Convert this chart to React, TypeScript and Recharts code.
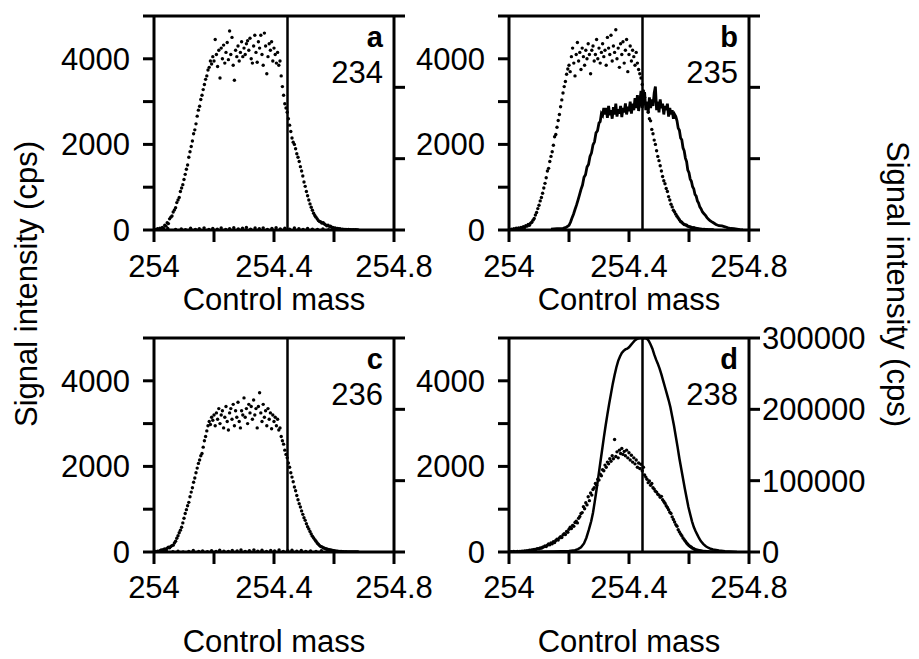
import React from 'react';
import { ComposedChart, Scatter, Line, XAxis, YAxis, ReferenceLine } from 'recharts';

const FONT = 'Liberation Sans, Arial, Helvetica, sans-serif';

// control mass scan positions shared by the dotted reference peaks
const scanMass = [
  254.000, 254.004, 254.008, 254.012, 254.016, 254.020, 254.024, 254.028, 254.032, 254.036,
  254.040, 254.044, 254.048, 254.052, 254.056, 254.060, 254.064, 254.068, 254.072, 254.076,
  254.080, 254.084, 254.088, 254.092, 254.096, 254.100, 254.104, 254.108, 254.112, 254.116,
  254.120, 254.124, 254.128, 254.132, 254.136, 254.140, 254.144, 254.148, 254.152, 254.156,
  254.160, 254.164, 254.168, 254.172, 254.176, 254.180, 254.184, 254.188, 254.192, 254.196,
  254.200, 254.204, 254.208, 254.212, 254.216, 254.220, 254.224, 254.228, 254.232, 254.236,
  254.240, 254.244, 254.248, 254.252, 254.256, 254.260, 254.264, 254.268, 254.272, 254.276,
  254.280, 254.284, 254.288, 254.292, 254.296, 254.300, 254.304, 254.308, 254.312, 254.316,
  254.320, 254.324, 254.328, 254.332, 254.336, 254.340, 254.344, 254.348, 254.352, 254.356,
  254.360, 254.364, 254.368, 254.372, 254.376, 254.380, 254.384, 254.388, 254.392, 254.396,
  254.400, 254.404, 254.408, 254.412, 254.416, 254.420, 254.424, 254.428, 254.432, 254.436,
  254.440, 254.444, 254.448, 254.452, 254.456, 254.460, 254.464, 254.468, 254.472, 254.476,
  254.480, 254.484, 254.488, 254.492, 254.496, 254.500, 254.504, 254.508, 254.512, 254.516,
  254.520, 254.524, 254.528, 254.532, 254.536, 254.540, 254.544, 254.548, 254.552, 254.556,
  254.560, 254.564, 254.568, 254.572, 254.576, 254.580, 254.584, 254.588, 254.592, 254.596,
  254.600, 254.604, 254.608, 254.612, 254.616, 254.620, 254.624, 254.628, 254.632, 254.636,
  254.640, 254.644, 254.648, 254.652, 254.656, 254.660, 254.664, 254.668, 254.672, 254.676,
  254.680,
];

// reference peak (cps), one list per panel
const refA = [
  0, 15, 5, 30, 10, 40, 20, 60, 35, 110,
  90, 170, 150, 260, 300, 330, 420, 470, 520, 640,
  700, 760, 900, 980, 1060, 1180, 1300, 1420, 1520, 1700,
  1830, 1950, 2080, 2250, 2340, 2480, 2660, 2800, 2890, 3050,
  3150, 3280, 3400, 3520, 3600, 3740, 3800, 3950, 3880, 4050,
  3950, 4450, 4100, 3820, 4200, 3550, 4250, 4000, 4320, 3900,
  4150, 4380, 3980, 4650, 4100, 4500, 3850, 3500, 4200, 4050,
  4300, 3950, 4150, 4400, 4050, 4250, 4100, 4350, 4420, 4200,
  4480, 4000, 3900, 4300, 4550, 4150, 3920, 4400, 4250, 4550,
  4100, 3850, 4600, 4300, 3650, 4050, 4350, 4200, 4400, 3950,
  4250, 4100, 3900, 4150, 3850, 3950, 3600, 3350, 3150, 2950,
  2850, 2750, 2600, 2450, 2300, 2150, 2050, 2000, 1900, 1780,
  1700, 1600, 1480, 1380, 1260, 1120, 1020, 900, 800, 700,
  610, 530, 460, 390, 340, 300, 260, 220, 200, 190,
  160, 170, 140, 120, 100, 110, 85, 90, 65, 60,
  40, 45, 30, 35, 25, 30, 15, 20, 10, 15,
  10, 5, 10, 5, 5, 0, 5, 0, 5, 0,
  0,
];
const refB = [
  10, 0, 20, 5, 30, 15, 40, 20, 50, 30,
  60, 45, 80, 60, 100, 90, 130, 110, 160, 180,
  230, 270, 350, 410, 500, 580, 680, 760, 860, 980,
  1090, 1220, 1380, 1440, 1600, 1720, 1830, 1980, 2180, 2230,
  2400, 2560, 2700, 2880, 3040, 3200, 3350, 3470, 3640, 3760,
  3850, 3700, 4050, 4250, 3900, 3600, 4100, 4380, 3950, 4150,
  3750, 4250, 4050, 3850, 4200, 4000, 4350, 4100, 3650, 4200,
  4300, 3950, 4100, 4450, 4000, 4250, 3900, 4150, 4350, 4050,
  4200, 3850, 4500, 4250, 4100, 4550, 3950, 4300, 4150, 4680,
  4000, 4250, 3800, 4350, 4100, 4400, 3900, 4200, 4450, 3700,
  4100, 4300, 3950, 4200, 4050, 3850, 4150, 3900, 3750, 3650,
  3550, 3400, 3250, 3100, 2950, 2850, 2750, 2600, 2550, 2350,
  2250, 2100, 2000, 1850, 1720, 1620, 1500, 1380, 1250, 1150,
  1080, 970, 900, 780, 700, 600, 540, 460, 420, 370,
  320, 280, 240, 200, 180, 150, 130, 120, 110, 90,
  80, 70, 60, 50, 55, 40, 35, 30, 25, 20,
  20, 15, 10, 10, 5, 5, 0, 0, 0, 0,
  0,
];
const refC = [
  0, 10, 0, 20, 10, 30, 50, 40, 60, 70,
  60, 90, 110, 100, 130, 150, 160, 210, 250, 320,
  380, 450, 510, 580, 680, 790, 900, 990, 1080, 1160,
  1290, 1400, 1500, 1630, 1730, 1850, 1960, 2070, 2150, 2250,
  2300, 2450, 2600, 2700, 2830, 2950, 3050, 2980, 3150, 3080,
  3200, 2950, 3250, 3100, 3350, 3000, 3200, 3300, 2900, 3150,
  3400, 3050, 2850, 3250, 3350, 3100, 3450, 2950, 3300, 3150,
  3500, 3050, 2900, 3300, 3200, 3600, 3150, 3350, 3000, 3450,
  3250, 3400, 3100, 3550, 3200, 3350, 2900, 3400, 3720, 3250,
  3050, 3450, 3150, 3300, 2950, 3350, 3100, 3250, 2880, 3200,
  3050, 3150, 2950, 3100, 2850, 2900, 2700, 2600, 2520, 2380,
  2280, 2200, 2080, 1980, 1850, 1750, 1640, 1520, 1430, 1320,
  1220, 1130, 1050, 960, 880, 800, 740, 660, 590, 540,
  480, 420, 370, 330, 290, 250, 210, 180, 150, 130,
  120, 100, 90, 75, 70, 60, 55, 50, 40, 35,
  30, 25, 20, 20, 15, 10, 10, 5, 5, 0,
  5, 0, 0, 0, 0, 0, 0, 0, 0, 0,
  0,
];
const refD = [
  0, 0, 5, 0, 10, 0, 5, 10, 0, 15,
  10, 20, 15, 25, 20, 30, 25, 40, 35, 50,
  45, 60, 55, 70, 80, 75, 95, 90, 110, 120,
  140, 130, 160, 190, 170, 210, 190, 240, 220, 270,
  300, 280, 330, 360, 340, 400, 430, 410, 480, 460,
  530, 580, 550, 620, 600, 690, 720, 680, 790, 830,
  900, 920, 1060, 1010, 1150, 1100, 1290, 1200, 1380, 1330,
  1460, 1500, 1600, 1560, 1700, 1680, 1820, 1780, 1920, 1900,
  2030, 1980, 2100, 2060, 2180, 2120, 2250, 2180, 2630, 2230,
  2340, 2200, 2380, 2300, 2420, 2280, 2350, 2250, 2380, 2200,
  2320, 2150, 2260, 2100, 2200, 2060, 2150, 1980, 2080, 1950,
  2050, 1900, 1980, 1800, 1750, 1700, 1620, 1660, 1560, 1600,
  1500, 1470, 1420, 1400, 1350, 1330, 1280, 1300, 1220, 1180,
  1140, 1080, 1040, 990, 930, 900, 820, 760, 700, 640,
  600, 520, 470, 420, 380, 330, 290, 250, 210, 180,
  150, 130, 110, 90, 75, 60, 50, 40, 35, 30,
  25, 20, 15, 10, 10, 5, 5, 0, 0, 0,
  0,
];

// 234 and 236 signals, practically zero
const zeroMassA = [
  254.012, 254.030, 254.046, 254.072, 254.091, 254.105, 254.122, 254.138, 254.151, 254.167,
  254.183, 254.196, 254.211, 254.224, 254.239, 254.252, 254.266, 254.281, 254.295, 254.308,
  254.322, 254.337, 254.351, 254.364, 254.378, 254.393, 254.407, 254.421, 254.436, 254.452,
  254.468, 254.483, 254.497, 254.512, 254.528, 254.545, 254.563, 254.582, 254.604,
];
const zeroA = [
  20, 0, 35, 10, 25, 5, 40, 15, 30, 50,
  10, 35, 20, 45, 15, 30, 55, 25, 40, 60,
  20, 45, 30, 50, 15, 35, 55, 25, 40, 20,
  45, 30, 15, 35, 20, 10, 25, 5, 15,
];
const zeroMassC = [
  254.018, 254.041, 254.063, 254.080, 254.097, 254.116, 254.131, 254.149, 254.162, 254.178,
  254.192, 254.207, 254.219, 254.233, 254.248, 254.261, 254.277, 254.290, 254.304, 254.318,
  254.333, 254.346, 254.360, 254.375, 254.389, 254.402, 254.417, 254.431, 254.446, 254.460,
  254.476, 254.491, 254.506, 254.522, 254.540, 254.558, 254.577, 254.597,
];
const zeroC = [
  10, 30, 5, 20, 0, 15, 35, 10, 25, 5,
  30, 15, 40, 20, 10, 35, 25, 45, 15, 30,
  50, 20, 40, 10, 35, 25, 45, 15, 30, 40,
  20, 35, 10, 25, 15, 30, 5, 20,
];

// 235 signal (left axis)
const lineBMass = [
  254.140, 254.160, 254.180, 254.190, 254.200, 254.205, 254.210, 254.215, 254.220, 254.225,
  254.230, 254.235, 254.240, 254.245, 254.250, 254.255, 254.260, 254.265, 254.270, 254.275,
  254.280, 254.285, 254.290, 254.295, 254.300, 254.304, 254.308, 254.312, 254.316,
  254.320, 254.324, 254.328, 254.332, 254.336, 254.340, 254.344, 254.348, 254.352, 254.356,
  254.360, 254.364, 254.368, 254.372, 254.376, 254.380, 254.384, 254.388, 254.392, 254.396,
  254.400, 254.404, 254.408, 254.412, 254.416, 254.420, 254.424, 254.428, 254.432, 254.436,
  254.440, 254.444, 254.448, 254.452, 254.456, 254.460, 254.464, 254.468, 254.472, 254.476,
  254.480, 254.484, 254.488, 254.492, 254.496, 254.500, 254.504, 254.508, 254.512, 254.516,
  254.520, 254.524, 254.528, 254.532, 254.536, 254.540, 254.544, 254.548, 254.552, 254.556,
  254.560, 254.564, 254.568, 254.572, 254.576, 254.580, 254.584, 254.588, 254.592, 254.596,
  254.600, 254.604, 254.608, 254.612, 254.616, 254.620, 254.624, 254.628, 254.632, 254.636,
  254.640, 254.645, 254.650, 254.655, 254.660, 254.665, 254.670, 254.675, 254.680,
  254.690, 254.700, 254.710, 254.720, 254.730, 254.740, 254.750, 254.760, 254.770, 254.780,
];
const lineB = [
  20, 30, 40, 60, 110, 180, 280, 370, 480, 580,
  700, 820, 950, 1050, 1230, 1290, 1470, 1530, 1720, 1800,
  1990, 2060, 2270, 2320, 2500, 2530, 2720, 2680, 2850,
  2700, 2850, 2620, 2900, 2680, 2800, 2600, 2870, 2700, 2950,
  2650, 2820, 2720, 2900, 2640, 2850, 2750, 2960, 2700, 2880,
  2780, 3000, 2720, 2950, 2800, 3080, 2850, 3150, 2780, 3000,
  3250, 2850, 3050, 3220, 2800, 3000, 2750, 3100, 2850, 3050,
  2900, 3200, 3350, 2800, 3000, 2750, 3050, 2850, 2950, 2700,
  2900, 2800, 2950, 2650, 2850, 2700, 2800, 2600, 2700, 2650,
  2550, 2380, 2330, 2150, 2110, 1920, 1850, 1680, 1600, 1400,
  1340, 1190, 1140, 1010, 960, 830, 790, 680, 630, 540,
  500, 420, 380, 340, 290, 250, 220, 195, 175,
  130, 100, 95, 75, 50, 35, 30, 20, 10, 5,
];

// 238 signal (right axis)
const lineDMass = [
  254.040, 254.100, 254.150, 254.200, 254.220, 254.230, 254.240, 254.250, 254.258, 254.266,
  254.274, 254.280, 254.286, 254.292, 254.298, 254.304, 254.310, 254.316, 254.322, 254.328,
  254.334, 254.340, 254.346, 254.352, 254.358, 254.364, 254.370, 254.376, 254.382, 254.388,
  254.394, 254.400, 254.406, 254.412, 254.418, 254.424, 254.430, 254.436, 254.442, 254.448,
  254.454, 254.460, 254.466, 254.472, 254.478, 254.484, 254.490, 254.496, 254.502, 254.508,
  254.514, 254.520, 254.526, 254.532, 254.538, 254.544, 254.550, 254.556, 254.562, 254.568,
  254.574, 254.580, 254.586, 254.592, 254.598, 254.604, 254.610, 254.616, 254.622, 254.628,
  254.634, 254.640, 254.648, 254.656, 254.664, 254.672, 254.680, 254.700, 254.720, 254.760,
];
const lineD = [
  0, 500, 800, 1500, 2500, 4000, 6500, 12000, 20000, 31000,
  43000, 55000, 71000, 88000, 106000, 124000, 142000, 160000, 177000, 193000,
  208000, 222000, 236000, 248000, 259000, 268000, 274000, 279000, 282000, 284000,
  285000, 287000, 290000, 293000, 296000, 298000, 299000, 300000, 300000, 299500,
  300000, 299000, 296000, 291000, 285000, 277000, 270000, 264000, 257000, 249000,
  240000, 231000, 222000, 213000, 203000, 190000, 177000, 162000, 147000, 131000,
  117000, 103000, 89000, 76000, 63000, 53000, 43000, 35000, 29000, 24000,
  19000, 15000, 11000, 8000, 6000, 4500, 3500, 2000, 1000, 0,
];

const massTicks = [254, 254.2, 254.4, 254.6, 254.8];
const massLabels = [254, 254.4, 254.8];
const leftTicks = [0, 1000, 2000, 3000, 4000, 5000];
const leftLabels = [0, 2000, 4000];
const rightTicks = [0, 100000, 200000, 300000];
const markerMass = 254.445;

const pts = (mass: number[], vals: number[]) => vals.map((v, i) => ({ mass: mass[i], v }));

const axisStyle = { stroke: '#000', strokeWidth: 3 };
const PLOT_W = 240;
const PLOT_H = 214;
const LEFT_W = 104;

const renderDot = (props: any) => <circle cx={props.cx} cy={props.cy} r={1.7} fill="#000" />;

const MassTick = (props: any) => {
  const { x, y, payload } = props;
  if (!massLabels.includes(payload.value)) return <g />;
  return (
    <text x={x} y={y} dy={22} textAnchor="middle" fontSize={31} fontFamily={FONT} fill="#000">
      {payload.value}
    </text>
  );
};

const LeftTick = (props: any) => {
  const { x, y, payload } = props;
  if (!leftLabels.includes(payload.value)) return <g />;
  return (
    <text x={x} y={y} dy={11} textAnchor="end" fontSize={31} fontFamily={FONT} fill="#000">
      {payload.value}
    </text>
  );
};

const RightTick = (props: any) => {
  const { x, y, payload, show } = props;
  if (!show) return <g />;
  return (
    <text x={x} y={y} dy={11} textAnchor="start" fontSize={31} fontFamily={FONT} fill="#000">
      {payload.value}
    </text>
  );
};

type PanelProps = {
  left: number;
  top: number;
  lower: boolean;
  dots: { mass: number; v: number }[];
  zeros?: { mass: number; v: number }[];
  line?: { mass: number; v: number }[];
  lineAxis?: string;
  lineWidth?: number;
  rightLabels?: boolean;
};

function Panel({ left, top, lower, dots, zeros, line, lineAxis, lineWidth, rightLabels }: PanelProps) {
  const rightW = rightLabels ? 120 : 45;
  const axisH = lower ? 107 : 90;
  return (
    <div style={{ position: 'absolute', left, top }}>
      <ComposedChart
        width={LEFT_W + PLOT_W + rightW}
        height={16 + PLOT_H + axisH}
        margin={{ top: 16, right: 0, bottom: 0, left: 0 }}
      >
        <XAxis
          type="number"
          dataKey="mass"
          domain={[254, 254.8]}
          ticks={massTicks}
          interval={0}
          allowDataOverflow
          height={axisH}
          tickSize={12}
          tickMargin={lower ? 12 : 13}
          axisLine={axisStyle}
          tickLine={axisStyle}
          tick={<MassTick />}
          label={{
            value: 'Control mass',
            position: 'insideBottom',
            offset: lower ? 7 : 10.5,
            fill: '#000',
            fontSize: 31,
            fontFamily: FONT,
          }}
        />
        <YAxis
          yAxisId="left"
          type="number"
          domain={[0, 5000]}
          ticks={leftTicks}
          interval={0}
          allowDataOverflow
          width={LEFT_W}
          tickSize={11}
          tickMargin={13}
          axisLine={axisStyle}
          tickLine={axisStyle}
          tick={<LeftTick />}
        />
        <YAxis
          yAxisId="right"
          orientation="right"
          type="number"
          domain={[0, 300000]}
          ticks={rightTicks}
          interval={0}
          allowDataOverflow
          width={rightW}
          tickSize={11}
          tickMargin={2}
          axisLine={axisStyle}
          tickLine={axisStyle}
          tick={<RightTick show={!!rightLabels} />}
        />
        <ReferenceLine yAxisId="left" y={5000} stroke="#000" strokeWidth={3} />
        <ReferenceLine yAxisId="left" x={markerMass} stroke="#000" strokeWidth={2.5} />
        {zeros && (
          <Scatter yAxisId="left" data={zeros} dataKey="v" shape={renderDot} isAnimationActive={false} />
        )}
        <Scatter yAxisId="left" data={dots} dataKey="v" shape={renderDot} isAnimationActive={false} />
        {line && (
          <Line
            yAxisId={lineAxis}
            data={line}
            dataKey="v"
            type="linear"
            stroke="#000"
            strokeWidth={lineWidth}
            dot={false}
            activeDot={false}
            isAnimationActive={false}
          />
        )}
      </ComposedChart>
    </div>
  );
}

const textStyle = { fontFamily: FONT, fill: '#000' };

export default function App() {
  const tags = [
    { letter: 'a', iso: '234', x: 383, y: 16 },
    { letter: 'b', iso: '235', x: 738, y: 16 },
    { letter: 'c', iso: '236', x: 383, y: 338 },
    { letter: 'd', iso: '238', x: 738, y: 338 },
  ];
  return (
    <div
      style={{
        position: 'absolute',
        left: 0,
        top: 0,
        width: 919,
        height: 659,
        overflow: 'hidden',
        background: '#fff',
      }}
    >
      <Panel left={50} top={0} lower={false} dots={pts(scanMass, refA)} zeros={pts(zeroMassA, zeroA)} />
      <Panel
        left={405}
        top={0}
        lower={false}
        dots={pts(scanMass, refB)}
        line={pts(lineBMass, lineB)}
        lineAxis="left"
        lineWidth={2.8}
      />
      <Panel left={50} top={322} lower dots={pts(scanMass, refC)} zeros={pts(zeroMassC, zeroC)} />
      <Panel
        left={405}
        top={322}
        lower
        dots={pts(scanMass, refD)}
        line={pts(lineDMass, lineD)}
        lineAxis="right"
        lineWidth={2.5}
        rightLabels
      />
      <svg width={919} height={659} style={{ position: 'absolute', left: 0, top: 0, pointerEvents: 'none' }}>
        <text transform="translate(37,284) rotate(-90)" textAnchor="middle" fontSize={31} {...textStyle}>
          Signal intensity (cps)
        </text>
        <text transform="translate(887,284) rotate(90)" textAnchor="middle" fontSize={31} {...textStyle}>
          Signal intensity (cps)
        </text>
        {tags.map((t) => (
          <g key={t.letter}>
            <text x={t.x} y={t.y + 31} textAnchor="end" fontSize={29} fontWeight="bold" {...textStyle}>
              {t.letter}
            </text>
            <text x={t.x} y={t.y + 67} textAnchor="end" fontSize={31} {...textStyle}>
              {t.iso}
            </text>
          </g>
        ))}
      </svg>
    </div>
  );
}
